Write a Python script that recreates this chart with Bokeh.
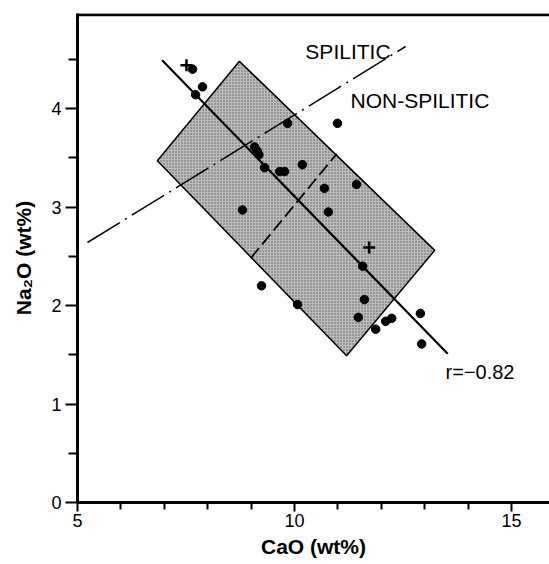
from bokeh.plotting import figure
from bokeh.models import Range1d, Span, Label, FixedTicker
from bokeh.embed import file_html
from bokeh.resources import INLINE

# --- data ---
cao = [7.65, 7.88, 7.72, 9.84, 9.08, 9.14, 9.18, 9.31, 9.66, 9.77, 10.18, 10.99,
       10.69, 11.43, 10.78, 8.80, 9.24, 11.57, 10.07, 11.61, 11.47, 11.87, 12.10,
       12.24, 12.90, 12.93]
na2o = [4.40, 4.22, 4.14, 3.85, 3.61, 3.57, 3.53, 3.40, 3.36, 3.36, 3.43, 3.85,
        3.19, 3.23, 2.95, 2.97, 2.20, 2.40, 2.01, 2.06, 1.88, 1.76, 1.84,
        1.87, 1.92, 1.61]
mean_cao = [7.51, 11.72]
mean_na2o = [4.44, 2.59]
fit_cao = [6.95, 13.53]
fit_na2o = [4.49, 1.51]
field_cao = [8.73, 13.23, 11.20, 6.84]
field_na2o = [4.48, 2.56, 1.49, 3.47]
spilitic_cao = [5.23, 12.56]
spilitic_na2o = [2.64, 4.63]
divide_cao = [8.99, 10.97]
divide_na2o = [2.48, 3.54]
x_major = [5, 10, 15]
x_minor = [6, 7, 8, 9, 11, 12, 13, 14]
y_major = [0, 1, 2, 3, 4]
y_minor = [0.5, 1.5, 2.5, 3.5, 4.5]

X_END = 15.875
Y_END = 4.965

FONT = "Liberation Sans"

p = figure(width=549, height=564, x_range=Range1d(5, X_END), y_range=Range1d(0, Y_END),
           output_backend="svg", toolbar_location=None,
           min_border_left=77, min_border_right=0, min_border_top=13, min_border_bottom=62)
p.outline_line_color = None
p.background_fill_color = "white"
p.border_fill_color = "white"
p.xgrid.visible = False
p.ygrid.visible = False

# shaded field
p.patch(field_cao, field_na2o, fill_color="#bdbdbd", line_color="black", line_width=1.5,
        hatch_pattern="dot", hatch_color="#5a5a5a", hatch_scale=3, hatch_weight=0.8)

# spilitic / non-spilitic boundary (dash-dot)
p.line(spilitic_cao, spilitic_na2o, line_color="black", line_width=1.5, line_dash="38 6 2 6")
# dashed line
p.line(divide_cao, divide_na2o, line_color="black", line_width=1.8, line_dash="13 5")
# regression line
p.line(fit_cao, fit_na2o, line_color="black", line_width=2.2)

# data points
p.scatter(cao, na2o, size=8.5, marker="circle", fill_color="black", line_color="black")
p.scatter(mean_cao, mean_na2o, size=12, marker="cross", line_color="black", line_width=2.5)

# labels
p.add_layout(Label(x=10.25, y=4.58, text="SPILITIC", text_font=FONT, text_font_size="21px",
                   text_baseline="middle", text_color="black"))
p.add_layout(Label(x=11.29, y=4.08, text="NON-SPILITIC", text_font=FONT, text_font_size="21px",
                   text_baseline="middle", text_color="black"))
p.add_layout(Label(x=13.48, y=1.33, text="r=−0.82", text_font=FONT, text_font_size="20px",
                   text_baseline="middle", text_color="black"))

# top border
p.add_layout(Span(location=Y_END - 0.012, dimension="width", line_color="black", line_width=3))

# axes
p.xaxis.ticker = FixedTicker(ticks=x_major, minor_ticks=x_minor)
p.yaxis.ticker = FixedTicker(ticks=y_major, minor_ticks=y_minor)
for ax in (p.xaxis[0], p.yaxis[0]):
    ax.axis_line_width = 3
    ax.axis_line_color = "black"
    ax.major_tick_line_width = 2
    ax.minor_tick_line_width = 2
    ax.major_tick_line_color = "black"
    ax.minor_tick_line_color = "black"
    ax.major_tick_in = 0
    ax.minor_tick_in = 0
    ax.major_label_text_font = FONT
    ax.major_label_text_font_size = "18px"
    ax.major_label_text_color = "black"
    ax.axis_label_text_font = FONT
    ax.axis_label_text_font_style = "bold"
    ax.axis_label_text_font_size = "21px"
    ax.axis_label_text_color = "black"

p.xaxis.major_tick_out = 9
p.xaxis.minor_tick_out = 7
p.xaxis.major_label_standoff = 2
p.xaxis.axis_label_standoff = 5
p.xaxis.axis_label = "CaO (wt%)"

p.yaxis.major_tick_out = 12
p.yaxis.minor_tick_out = 9
p.yaxis.major_label_standoff = 4
p.yaxis.axis_label_standoff = 13
p.yaxis.axis_label = "Na₂O (wt%)"

open("out.html", "w").write(file_html(p, INLINE))
